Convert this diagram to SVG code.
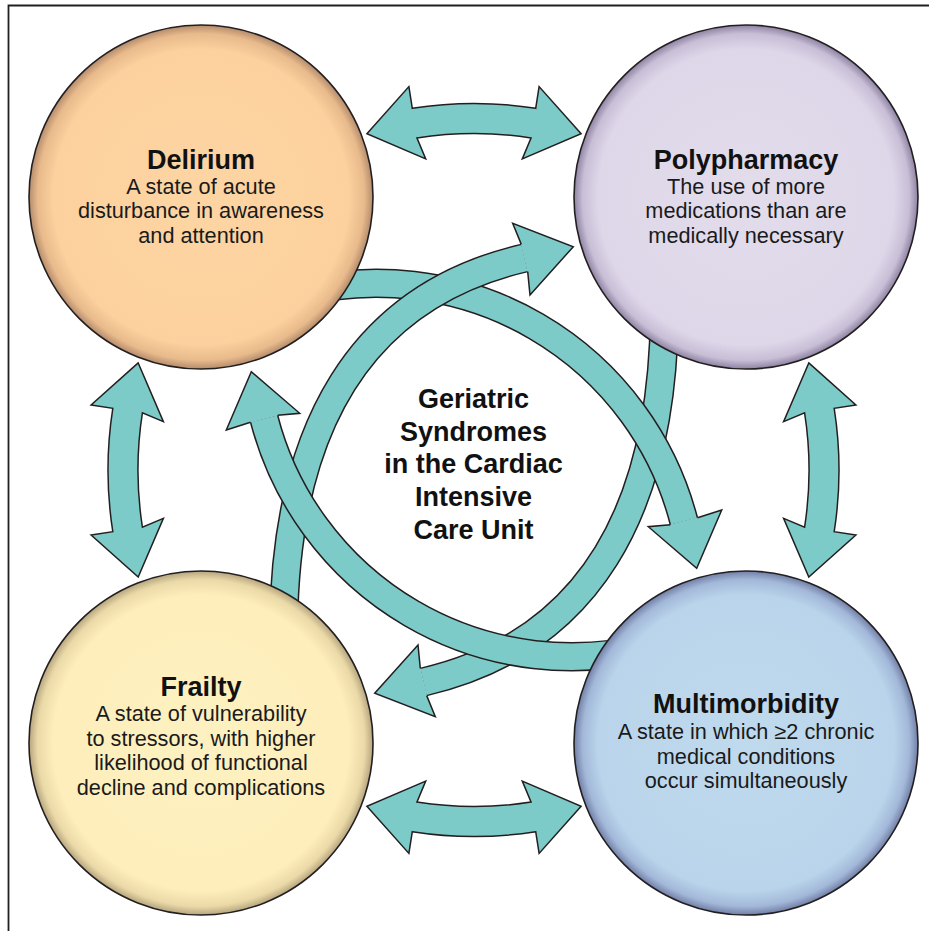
<svg xmlns="http://www.w3.org/2000/svg" width="929" height="931" viewBox="0 0 929 931">
<defs>
<style>
.frame{fill:none;stroke:#231F20;stroke-width:1.8}
.arrow{fill:#7DCBC9;stroke:#231F20;stroke-width:1.5;stroke-linejoin:miter}
.sh-o{fill:none;stroke:#231F20;stroke-width:29.5}
.sh-i{fill:none;stroke:#7DCBC9;stroke-width:26.5}
.hd-f{fill:#7DCBC9;stroke:none}
.hd-o{fill:none;stroke:#231F20;stroke-width:1.5;stroke-linejoin:miter}
.circ{stroke:#231F20;stroke-width:1.6}
.title{font-family:"Liberation Sans",Arial,Helvetica,sans-serif;font-weight:bold;font-size:27px;fill:#111;text-anchor:middle}
.body{font-family:"Liberation Sans",Arial,Helvetica,sans-serif;font-size:21.7px;fill:#1a1a1a;text-anchor:middle}
.center{font-family:"Liberation Sans",Arial,Helvetica,sans-serif;font-weight:bold;font-size:27px;fill:#111;text-anchor:middle}
</style>
<radialGradient id="gDel" cx="50%" cy="50%" r="50%">
<stop offset="0" stop-color="#FDD5A3"/><stop offset="0.86" stop-color="#FCD19D"/><stop offset="0.95" stop-color="#E8BA8C"/><stop offset="1" stop-color="#B48C6C"/>
</radialGradient>
<radialGradient id="gPoly" cx="50%" cy="50%" r="50%">
<stop offset="0" stop-color="#E2DCEB"/><stop offset="0.86" stop-color="#DED7E9"/><stop offset="0.95" stop-color="#C8BED6"/><stop offset="1" stop-color="#8E82A2"/>
</radialGradient>
<radialGradient id="gFra" cx="50%" cy="50%" r="50%">
<stop offset="0" stop-color="#FEF1C1"/><stop offset="0.86" stop-color="#FDEEBB"/><stop offset="0.95" stop-color="#EBDAA8"/><stop offset="1" stop-color="#B6A57E"/>
</radialGradient>
<radialGradient id="gMul" cx="50%" cy="50%" r="50%">
<stop offset="0" stop-color="#BFD9ED"/><stop offset="0.86" stop-color="#BAD5EB"/><stop offset="0.95" stop-color="#A3B8D9"/><stop offset="1" stop-color="#717FA6"/>
</radialGradient>
</defs>
<rect width="929" height="931" fill="#fff"/>
<path class="frame" d="M8.5,931 L8.5,5.5 L929,5.5"/>

<g id="connectors">
  <!-- Polypharmacy -> Frailty -->
  <g id="arc-poly-frailty">
    <path class="sh-o" d="M664.4,315 C662,510 589.1,643.6 423.5,682"/>
    <path class="sh-i" d="M664.4,315 C662,510 589.1,643.6 423.5,682"/>
    <polygon class="hd-f" points="426.7,695.6 435.3,716.7 374.7,693.3 418,645 420.3,668.4"/>
    <polyline class="hd-o" points="426.7,695.6 435.3,716.7 374.7,693.3 418,645 420.3,668.4"/>
  </g>
  <!-- Delirium -> Multimorbidity -->
  <g id="arc-del-multi">
    <path class="sh-o" d="M294.3,294.1 A317.5,317.5 0 0,1 683.9,521.3"/>
    <path class="sh-i" d="M294.3,294.1 A317.5,317.5 0 0,1 683.9,521.3"/>
    <polygon class="hd-f" points="697.5,517.8 721.7,510 696.7,568.3 648.3,526.7 670.3,524.8"/>
    <polyline class="hd-o" points="697.5,517.8 721.7,510 696.7,568.3 648.3,526.7 670.3,524.8"/>
  </g>
  <!-- Frailty -> Polypharmacy -->
  <g id="arc-frailty-poly">
    <path class="sh-o" d="M283.6,625 C286,430 358.9,296.4 524.5,258"/>
    <path class="sh-i" d="M283.6,625 C286,430 358.9,296.4 524.5,258"/>
    <polygon class="hd-f" points="521.3,244.4 512.7,223.3 573.3,246.7 530,295 527.7,271.6"/>
    <polyline class="hd-o" points="521.3,244.4 512.7,223.3 573.3,246.7 530,295 527.7,271.6"/>
  </g>
  <!-- Multimorbidity -> Delirium -->
  <g id="arc-multi-del">
    <path class="sh-o" d="M653.7,645.9 A317.5,317.5 0 0,1 264.1,418.7"/>
    <path class="sh-i" d="M653.7,645.9 A317.5,317.5 0 0,1 264.1,418.7"/>
    <polygon class="hd-f" points="250.5,422.2 226.3,430 251.3,371.7 299.7,413.3 277.7,415.2"/>
    <polyline class="hd-o" points="250.5,422.2 226.3,430 251.3,371.7 299.7,413.3 277.7,415.2"/>
  </g>
  <!-- double arrows -->
  <path id="dbl-top" class="arrow" d="M366.9,133.7 L408.9,86.6 L412.3,108.3 A399,399 0 0,1 535.7,108.3 L539.1,86.6 L581.1,133.7 L522.3,158.9 L531.1,137.9 A369,369 0 0,0 416.9,137.9 L425.7,158.9 Z"/>
  <path id="dbl-bottom" class="arrow" d="M366.9,806.3 L408.9,853.4 L412.3,831.7 A399,399 0 0,0 535.7,831.7 L539.1,853.4 L581.1,806.3 L522.3,781.1 L531.1,802.1 A369,369 0 0,1 416.9,802.1 L425.7,781.1 Z"/>
  <path id="dbl-left" class="arrow" d="M138.2,362.9 L91.1,404.9 L112.8,408.3 A399,399 0 0,0 112.8,531.7 L91.1,535.1 L138.2,577.1 L163.4,518.3 L142.4,527.1 A369,369 0 0,1 142.4,412.9 L163.4,421.7 Z"/>
  <path id="dbl-right" class="arrow" d="M808.8,362.9 L855.9,404.9 L834.2,408.3 A399,399 0 0,1 834.2,531.7 L855.9,535.1 L808.8,577.1 L783.6,518.3 L804.6,527.1 A369,369 0 0,0 804.6,412.9 L783.6,421.7 Z"/>
</g>

<g id="delirium">
  <circle class="circ" cx="201" cy="197" r="172" fill="url(#gDel)"/>
  <text class="title" x="201" y="169">Delirium</text>
  <text class="body" x="201" y="193.5">A state of acute</text>
  <text class="body" x="201" y="218">disturbance in awareness</text>
  <text class="body" x="201" y="242.5">and attention</text>
</g>

<g id="polypharmacy">
  <circle class="circ" cx="746" cy="197" r="172" fill="url(#gPoly)"/>
  <text class="title" x="746" y="169">Polypharmacy</text>
  <text class="body" x="746" y="193.5">The use of more</text>
  <text class="body" x="746" y="218">medications than are</text>
  <text class="body" x="746" y="242.5">medically necessary</text>
</g>

<g id="frailty">
  <circle class="circ" cx="201" cy="743" r="172" fill="url(#gFra)"/>
  <text class="title" x="201" y="696">Frailty</text>
  <text class="body" x="201" y="721">A state of vulnerability</text>
  <text class="body" x="201" y="745.5">to stressors, with higher</text>
  <text class="body" x="201" y="770">likelihood of functional</text>
  <text class="body" x="201" y="794.5">decline and complications</text>
</g>

<g id="multimorbidity">
  <circle class="circ" cx="746" cy="743" r="172" fill="url(#gMul)"/>
  <text class="title" x="746" y="713">Multimorbidity</text>
  <text class="body" x="746" y="739">A state in which ≥2 chronic</text>
  <text class="body" x="746" y="763.5">medical conditions</text>
  <text class="body" x="746" y="788">occur simultaneously</text>
</g>

<g id="center-title">
  <text class="center" x="473.5" y="408">Geriatric</text>
  <text class="center" x="473.5" y="440.7">Syndromes</text>
  <text class="center" x="473.5" y="473.3">in the Cardiac</text>
  <text class="center" x="473.5" y="506">Intensive</text>
  <text class="center" x="473.5" y="538.7">Care Unit</text>
</g>
</svg>
